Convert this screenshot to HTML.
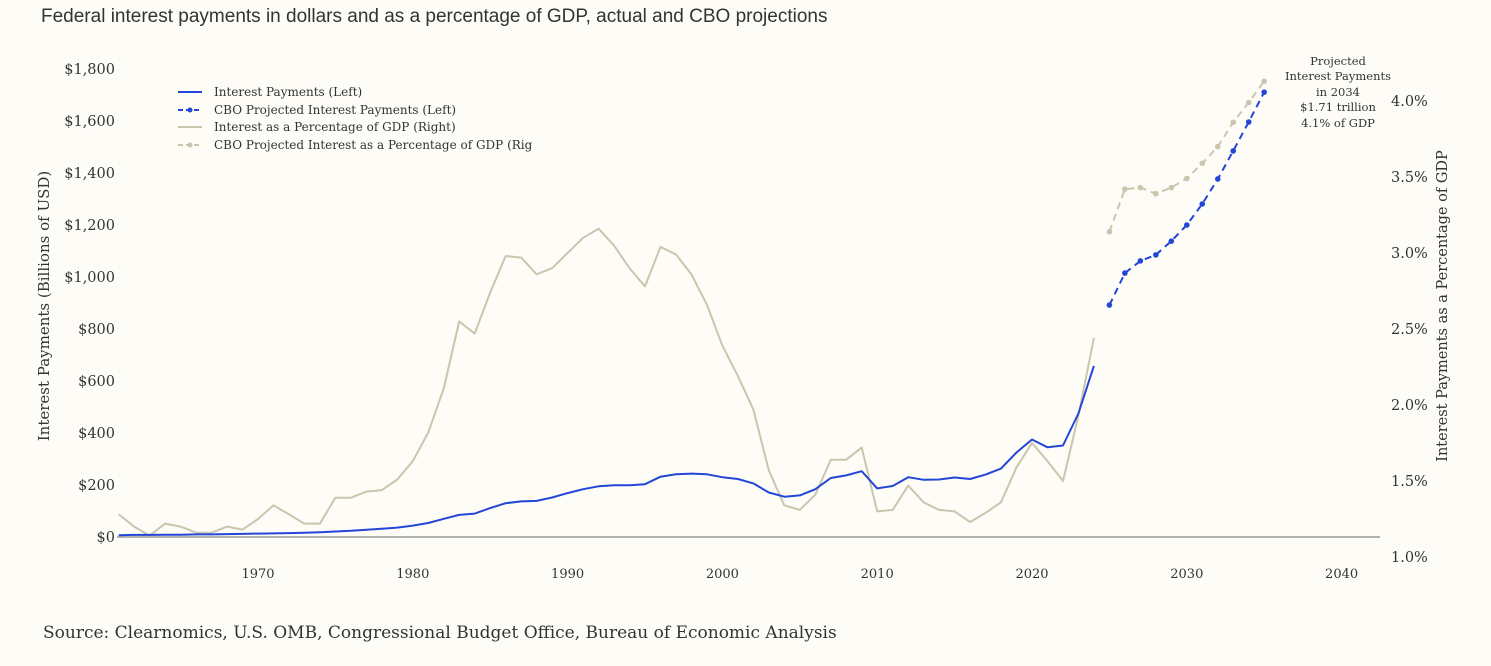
<!DOCTYPE html>
<html><head><meta charset="utf-8"><style>
body{margin:0;background:#fdfcf7;width:1491px;height:666px;overflow:hidden}
svg{display:block}
.t{font-family:"DejaVu Serif","Liberation Serif",serif;fill:#333}
</style></head><body>
<svg id="chart" width="1491" height="666">
<rect width="1491" height="666" fill="#fdfcf7"/>
<text x="41" y="22" font-family="Liberation Sans,sans-serif" font-size="19" fill="#333">Federal interest payments in dollars and as a percentage of GDP, actual and CBO projections</text>
<text class="t" x="43" y="638" font-size="17">Source: Clearnomics, U.S. OMB, Congressional Budget Office, Bureau of Economic Analysis</text>
<text class="t" transform="translate(49,306) rotate(-90)" text-anchor="middle" font-size="15">Interest Payments (Billions of USD)</text>
<text class="t" transform="translate(1447,306) rotate(-90)" text-anchor="middle" font-size="14.5">Interest Payments as a Percentage of GDP</text>
<g id="ticks"></g>
<line x1="117" y1="537" x2="1380" y2="537" stroke="#999" stroke-width="1.5"/>
<g id="marks"></g>
<g class="t" font-size="12">
<line x1="178" y1="92" x2="202" y2="92" stroke="#2346d6" stroke-width="2"/>
<text x="214" y="96">Interest Payments (Left)</text>
<line x1="178" y1="110" x2="202" y2="110" stroke="#2346d6" stroke-width="2" stroke-dasharray="5,3"/>
<circle cx="190" cy="110" r="2.5" fill="#2346d6"/>
<text x="214" y="114">CBO Projected Interest Payments (Left)</text>
<line x1="178" y1="127" x2="202" y2="127" stroke="#c9c6ae" stroke-width="2"/>
<text x="214" y="131">Interest as a Percentage of GDP (Right)</text>
<line x1="178" y1="145" x2="202" y2="145" stroke="#c9c6ae" stroke-width="2" stroke-dasharray="5,3"/>
<circle cx="190" cy="145" r="2.5" fill="#c9c6ae"/>
<text x="214" y="149">CBO Projected Interest as a Percentage of GDP (Rig</text>
</g>
<g class="t" font-size="11.5" text-anchor="middle">
<text x="1338" y="65">Projected</text>
<text x="1338" y="80">Interest Payments</text>
<text x="1338" y="96">in 2034</text>
<text x="1338" y="111">$1.71 trillion</text>
<text x="1338" y="127">4.1% of GDP</text>
</g>
</svg>
<script>
const years=[];for(let y=1961;y<=2024;y++)years.push(y);
const interest=[7,8,8,9,9,10,10,11,12,13,14,15,16,18,21,24,28,32,36,44,54,70,85,90,111,130,137,139,152,169,184,195,199,199,203,232,241,244,241,230,223,206,171,155,160,184,227,237,253,187,196,230,220,221,229,223,240,263,325,375,345,352,475,658];
const pctGdp=[1.28,1.20,1.14,1.22,1.20,1.16,1.16,1.20,1.18,1.25,1.34,1.28,1.22,1.22,1.39,1.39,1.43,1.44,1.51,1.63,1.82,2.11,2.55,2.47,2.74,2.98,2.97,2.86,2.90,3.00,3.10,3.16,3.05,2.90,2.78,3.04,2.99,2.86,2.66,2.39,2.19,1.97,1.57,1.34,1.31,1.41,1.64,1.64,1.72,1.30,1.31,1.47,1.36,1.31,1.30,1.23,1.29,1.36,1.59,1.75,1.63,1.50,1.93,2.44];
const projYears=[2025,2026,2027,2028,2029,2030,2031,2032,2033,2034,2035];
const projInterest=[892,1015,1062,1085,1138,1200,1281,1377,1485,1596,1711];
const projPct=[3.14,3.42,3.43,3.39,3.43,3.49,3.59,3.70,3.86,3.99,4.13];
const leftTicks=[0,200,400,600,800,1000,1200,1400,1600,1800];
const leftLabels=["$0","$200","$400","$600","$800","$1,000","$1,200","$1,400","$1,600","$1,800"];
const rightTicks=[1.0,1.5,2.0,2.5,3.0,3.5,4.0];
const xTicks=[1970,1980,1990,2000,2010,2020,2030,2040];
const X=y=>258+(y-1970)*15.48;
const YL=v=>537-v*0.26;
const YR=p=>557-(p-1)*152;
const NS="http://www.w3.org/2000/svg";
const tg=document.getElementById('ticks'),mg=document.getElementById('marks');
function el(tag,attrs,parent){const e=document.createElementNS(NS,tag);for(const k in attrs)e.setAttribute(k,attrs[k]);parent.appendChild(e);return e;}
leftTicks.forEach((v,i)=>{const t=el('text',{x:115,y:YL(v)+5,'text-anchor':'end','font-size':14.5,class:'t'},tg);t.textContent=leftLabels[i];

});
rightTicks.forEach(v=>{const t=el('text',{x:1391,y:YR(v)+5,'font-size':14.5,class:'t'},tg);t.textContent=v.toFixed(1)+'%';

});
xTicks.forEach(v=>{const t=el('text',{x:X(v),y:578,'text-anchor':'middle','font-size':13,class:'t'},tg);t.textContent=v;

});
function line(xs,ys,fy,color,dash,name){const d=xs.map((x,i)=>(i?'L':'M')+X(x).toFixed(1)+','+fy(ys[i]).toFixed(1)).join('');
const p=el('path',{d:d,fill:'none',stroke:color,'stroke-width':2,'stroke-dasharray':dash||'none','stroke-linejoin':'round'},mg);

return p;}
function dots(xs,ys,fy,color,name){xs.forEach((x,i)=>{const c=el('circle',{cx:X(x),cy:fy(ys[i]),r:2.8,fill:color},mg);

});}
line(years,pctGdp,YR,'#c9c6ae',null,'pct-gdp-line');
line(projYears,projPct,YR,'#c9c6ae','7,5','cbo-pct-line');
dots(projYears,projPct,YR,'#c9c6ae','cbo-pct-point');
line(years,interest,YL,'#2346d6',null,'interest-line');
line(projYears,projInterest,YL,'#2346d6','7,5','cbo-interest-line');
dots(projYears,projInterest,YL,'#2346d6','cbo-interest-point');
</script>
</body></html>
